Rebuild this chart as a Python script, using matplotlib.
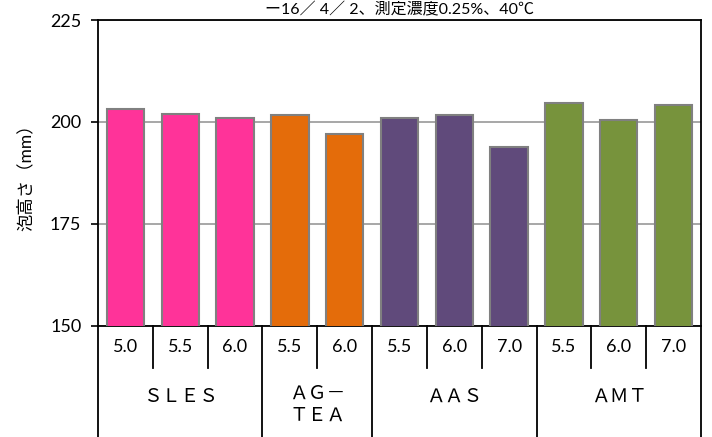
import matplotlib
matplotlib.use("Agg")
import matplotlib.pyplot as plt
import numpy as np

plt.rcParams['font.family'] = ['Lato', 'Noto Sans CJK JP', 'DejaVu Sans']

# data
ph_labels = ['5.0', '5.5', '6.0', '5.5', '6.0', '5.5', '6.0', '7.0', '5.5', '6.0', '7.0']
foam = [203.3, 202.0, 201.0, 201.8, 197.1, 200.9, 201.8, 193.9, 204.7, 200.4, 204.1]
groups = ['ＳＬＥＳ', 'ＡＧ－\nＴＥＡ', 'ＡＡＳ', 'ＡＭＴ']
group_sizes = [3, 2, 3, 3]
group_colors = ['#FF3399', '#E46C0A', '#604A7B', '#77933C']
title = 'ー16／ 4／ 2、測定濃度0.25%、40℃'

bar_colors = []
for c, n in zip(group_colors, group_sizes):
    bar_colors += [c] * n

fig = plt.figure(figsize=(7.12, 4.37), dpi=100)
ax = fig.add_axes([98/712, 1-326/437, 603/712, 306/437])

x = np.arange(len(foam))
ax.bar(x, foam, width=0.68, color=bar_colors, edgecolor='#808080', linewidth=1.5, zorder=3)

ax.set_xlim(-0.5, len(foam)-0.5)
ax.set_ylim(150, 225)
ax.set_yticks([150, 175, 200, 225])
ax.yaxis.grid(True, color='#A0A0A0', linewidth=1.3, zorder=0)
ax.tick_params(axis='y', direction='out', length=5, width=1.2, labelsize=13, pad=7)
for s in ax.spines.values():
    s.set_linewidth(1.3)
    s.set_color('black')

ax.set_ylabel('泡高さ（mm）', fontsize=12.5)
ax.yaxis.set_label_coords(-0.107, 0.5)

# multi-level category axis drawn by hand
ax.set_xticks([])
tr = ax.get_xaxis_transform()
row1 = -42/306
bottom = -111/306
for i, lab in enumerate(ph_labels):
    ax.text(i, -21/306, lab, transform=tr, ha='center', va='center', fontsize=13)

edges = np.cumsum([0] + group_sizes) - 0.5
for e in edges:
    ax.plot([e, e], [0, bottom], transform=tr, color='black', lw=1.3, clip_on=False)
start = 0
for g, n in zip(groups, group_sizes):
    for k in range(1, n):
        xe = start + k - 0.5
        ax.plot([xe, xe], [0, row1], transform=tr, color='black', lw=1.3, clip_on=False)
    cx = start + (n - 1) / 2
    if '\n' in g:
        ax.text(cx, -59/306, g, transform=tr, ha='center', va='top',
                fontsize=13.5, linespacing=1.35)
    else:
        ax.text(cx, -70/306, g, transform=tr, ha='center', va='center', fontsize=13.5)
    start += n

fig.text((98+701)/2/712, 1-14/437, title, ha='center', va='baseline', fontsize=11.5)

fig.savefig('out.png', dpi=100)
